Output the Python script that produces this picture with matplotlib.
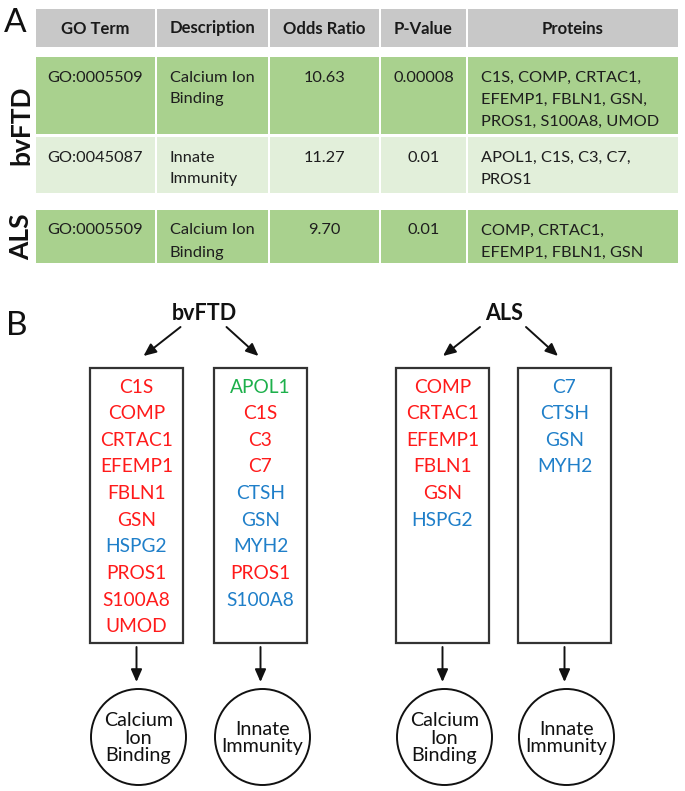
import textwrap
import matplotlib
matplotlib.use("Agg")
import matplotlib.pyplot as plt
from matplotlib.patches import Rectangle, Ellipse, FancyArrowPatch

# ---------------- data ----------------
header = ["GO Term", "Description", "Odds Ratio", "P-Value", "Proteins"]
row_groups = ["bvFTD", "bvFTD", "ALS"]
go_terms = ["GO:0005509", "GO:0045087", "GO:0005509"]
descriptions = ["Calcium Ion Binding", "Innate Immunity", "Calcium Ion Binding"]
odds_ratios = ["10.63", "11.27", "9.70"]
p_values = ["0.00008", "0.01", "0.01"]
proteins = ["C1S, COMP, CRTAC1, EFEMP1, FBLN1, GSN, PROS1, S100A8, UMOD",
            "APOL1, C1S, C3, C7, PROS1",
            "COMP, CRTAC1, EFEMP1, FBLN1, GSN"]

# panel B: protein lists and their colour class
bvftd_calcium = ["C1S", "COMP", "CRTAC1", "EFEMP1", "FBLN1", "GSN", "HSPG2", "PROS1", "S100A8", "UMOD"]
bvftd_calcium_cls = ["r", "r", "r", "r", "r", "r", "b", "r", "r", "r"]
bvftd_innate = ["APOL1", "C1S", "C3", "C7", "CTSH", "GSN", "MYH2", "PROS1", "S100A8"]
bvftd_innate_cls = ["g", "r", "r", "r", "b", "b", "b", "r", "b"]
als_calcium = ["COMP", "CRTAC1", "EFEMP1", "FBLN1", "GSN", "HSPG2"]
als_calcium_cls = ["r", "r", "r", "r", "r", "b"]
als_innate = ["C7", "CTSH", "GSN", "MYH2"]
als_innate_cls = ["b", "b", "b", "b"]
panel_b_groups = ["bvFTD", "ALS"]
pathways = ["Calcium Ion Binding", "Innate Immunity"]

# ---------------- styles / layout ----------------
FONT = ["Lato", "DejaVu Sans"]
plt.rcParams["font.family"] = FONT
cls_colors = {"r": "#FF1A1A", "b": "#1F7FC9", "g": "#1DB04B"}
row_colors = ["#A9D18E", "#E2EFDA", "#A9D18E"]
header_color = "#C8C8C8"
txt_color = "#1e1e1e"

W, H = 685, 791
fig = plt.figure(figsize=(W / 100, H / 100), dpi=100)
ax = fig.add_axes([0, 0, 1, 1])
ax.set_xlim(0, W)
ax.set_ylim(H, 0)
ax.axis("off")

# table geometry
col_edges = [(36, 155), (157, 268), (270, 379), (381, 466), (468, 678)]
col_align = ["center", "left", "center", "center", "left"]
col_wrap = [None, 12, None, None, 20]
header_span = (9, 47)
row_spans = [(57, 134), (137, 193), (210, 263)]
pad = 13
line_h = 22

# panel letters
ax.text(4, 32, "A", fontsize=24, fontweight="normal", ha="left", va="baseline", color="#111111")
ax.text(6, 335, "B", fontsize=24, fontweight="normal", ha="left", va="baseline", color="#111111")

# header
for (x0, x1), lab in zip(col_edges, header):
    ax.add_patch(Rectangle((x0, header_span[0]), x1 - x0, header_span[1] - header_span[0],
                           facecolor=header_color, edgecolor="none"))
    ax.text((x0 + x1) / 2, 33.5, lab, fontsize=12, fontweight="bold",
            ha="center", va="baseline", color="#1a1a1a")

# body rows
columns = [go_terms, descriptions, odds_ratios, p_values, proteins]
for i, (y0, y1) in enumerate(row_spans):
    for j, ((x0, x1), col) in enumerate(zip(col_edges, columns)):
        ax.add_patch(Rectangle((x0, y0), x1 - x0, y1 - y0,
                               facecolor=row_colors[i], edgecolor="none"))
        val = col[i]
        lines = textwrap.wrap(val, col_wrap[j]) if col_wrap[j] else [val]
        if col_align[j] == "center":
            tx, ha = (x0 + x1) / 2, "center"
        else:
            tx, ha = x0 + pad, "left"
        for k, ln in enumerate(lines):
            ax.text(tx, y0 + 24.5 + k * line_h, ln, fontsize=11.8, ha=ha,
                    va="baseline", color=txt_color)

# side group labels
for g in dict.fromkeys(row_groups):
    idx = [i for i, r in enumerate(row_groups) if r == g]
    top = row_spans[idx[0]][0]
    bot = row_spans[idx[-1]][1]
    ax.text(21, (top + bot) / 2, g, rotation=90, fontsize=19, fontweight="bold",
            ha="center", va="center", color="#111111")

# ---------------- panel B ----------------
box_lists = [(bvftd_calcium, bvftd_calcium_cls), (bvftd_innate, bvftd_innate_cls),
             (als_calcium, als_calcium_cls), (als_innate, als_innate_cls)]
box_left = [90, 214, 396, 518]
box_w = 93
box_top, box_bot = 368, 643
title_x = [204.5, 504]
title_base = 320
first_base, item_step = 392.7, 26.6
circ_cy, circ_w, circ_h = 737, 95, 96


def arrow(x0, y0, x1, y1):
    ax.add_patch(FancyArrowPatch((x0, y0), (x1, y1),
                                 arrowstyle="-|>,head_length=0.75,head_width=0.33",
                                 mutation_scale=10, shrinkA=0, shrinkB=0,
                                 color="#111111", lw=1.4))


for gi, g in enumerate(panel_b_groups):
    tc = title_x[gi]
    ax.text(tc, title_base, g, fontsize=15.5, fontweight="bold", ha="center",
            va="baseline", color="#111111")
    arrow(tc - 24, 327, tc - 61, 356)
    arrow(tc + 22, 327, tc + 54, 356)

for bi, (names, cls) in enumerate(box_lists):
    x0 = box_left[bi]
    cx = x0 + box_w / 2
    ax.add_patch(Rectangle((x0, box_top), box_w, box_bot - box_top,
                           facecolor="white", edgecolor="#333333", lw=1.6))
    for k, (nm, c) in enumerate(zip(names, cls)):
        ax.text(cx, first_base + k * item_step, nm, fontsize=13.8, ha="center",
                va="baseline", color=cls_colors[c])
    arrow(cx, 647, cx, 682)
    ax.add_patch(Ellipse((cx + 2, circ_cy), circ_w, circ_h, facecolor="white",
                         edgecolor="#111111", lw=1.4))
    words = pathways[bi % 2].split()
    n = len(words)
    for k, w in enumerate(words):
        ax.text(cx + 2, circ_cy + 6.5 + (k - (n - 1) / 2) * 17.5, w, fontsize=14.2,
                ha="center", va="baseline", color="#111111")

fig.savefig("out.png", dpi=100, facecolor="white")
